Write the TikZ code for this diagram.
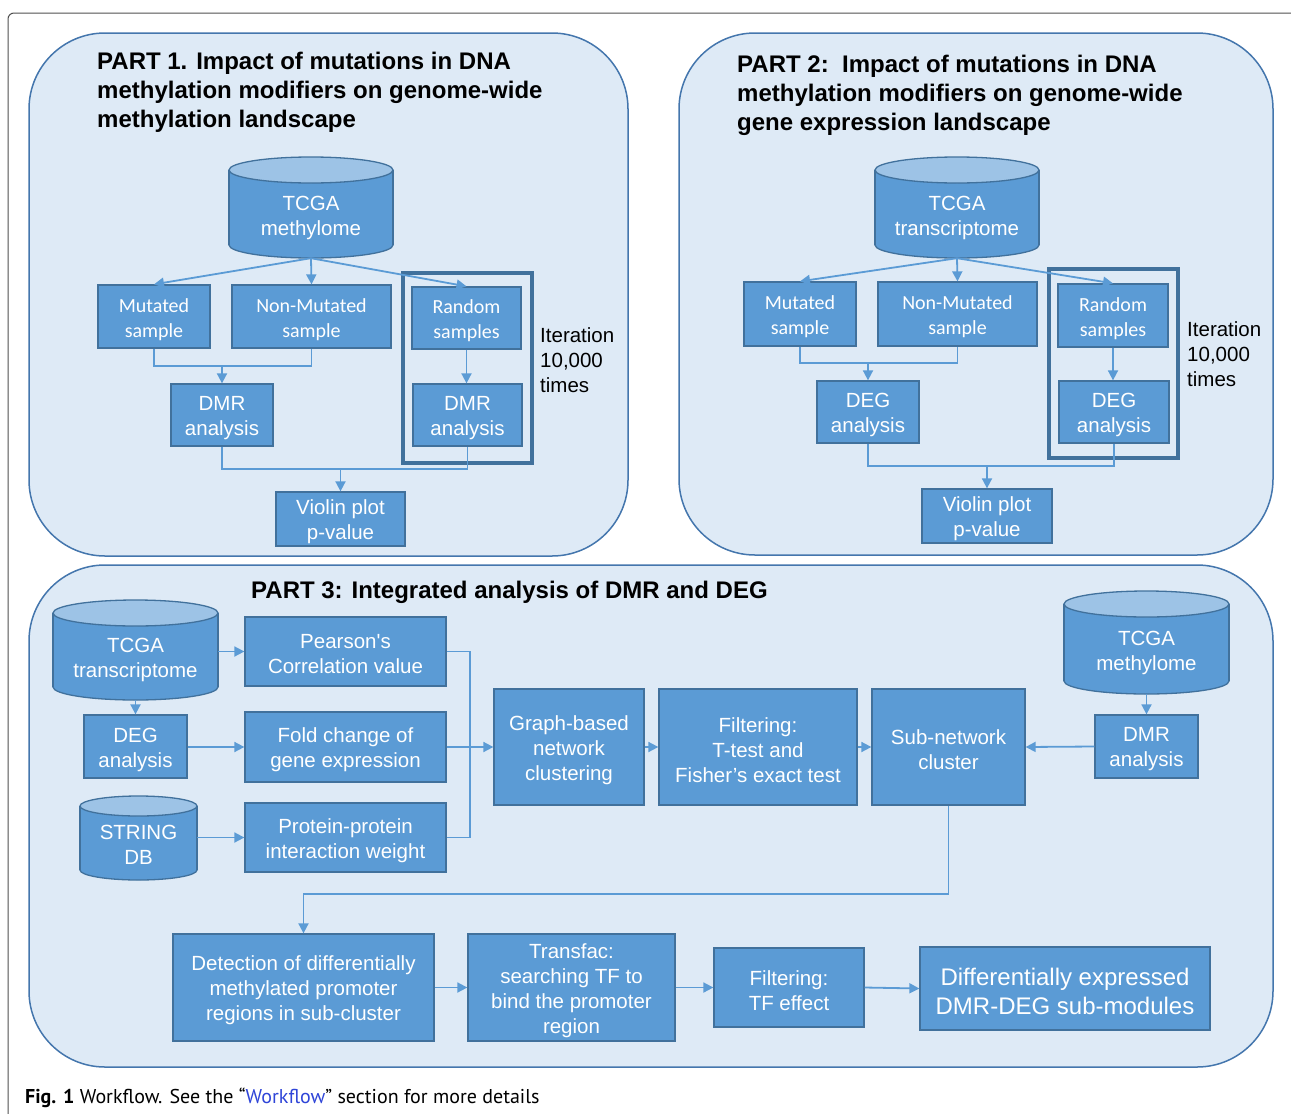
\documentclass[tikz,border=0pt]{standalone}
\usepackage{fontspec}
\setmainfont{Liberation Sans}[Ligatures=TeXOff]
\newfontfamily\calib{Carlito}
\newfontfamily\capfont{PT Sans}
\usetikzlibrary{arrows.meta}
\definecolor{boxfill}{HTML}{5B9BD5}
\definecolor{boxline}{HTML}{41719C}
\definecolor{cyltop}{HTML}{9DC3E6}
\definecolor{panelfill}{HTML}{DEEAF6}
\definecolor{panelline}{HTML}{4476AD}
\definecolor{arrcol}{HTML}{5B9BD5}
\definecolor{frameline}{HTML}{41719C}
\definecolor{linkblue}{HTML}{2F45D8}
\definecolor{outergray}{HTML}{505050}
\tikzset{
  box/.style={draw=boxline, fill=boxfill, line width=1.3pt, inner sep=0pt},
  btext/.style={text=white, align=center, inner sep=0pt, font=\fontsize{20.5}{25}\selectfont},
  ctext/.style={btext, font=\calib\fontsize{20}{25}\selectfont},
  bigtext/.style={btext, font=\fontsize{24}{29}\selectfont},
  cylline/.style={draw=boxline, line width=1.3pt},
  conn/.style={draw=arrcol, line width=1.8pt},
  arr/.style={conn, -{Triangle[length=10pt,width=10pt]}},
  panel/.style={draw=panelline, fill=panelfill, line width=1.5pt, rounded corners=76pt},
  iterframe/.style={draw=frameline, line width=3.5pt},
  ptitle/.style={font=\bfseries\fontsize{24}{29}\selectfont, align=left, anchor=north west, inner sep=0pt},
  itertext/.style={font=\fontsize{20.5}{25}\selectfont, align=left, anchor=north west, inner sep=0pt},
}
% box: [text style]{name}{l}{t}{r}{b}{text}
\newcommand\bx[7][btext]{%
  \node[box,minimum width={(#5-#3)*1pt},minimum height={(#6-#4)*1pt}] (#2) at ({(#3+#5)/2},{(#4+#6)/2}) {};
  \node[#1] (#2t) at ({(#3+#5)/2},{(#4+#6)/2+3}) {#7};}
% cylinder: {name}{l}{t}{r}{b}{ry}{text offset}{text}
\newcommand\cyl[8]{%
  \filldraw[cylline, fill=boxfill] ({(#2+#4)/2},{#5-#6}) ellipse [x radius={(#4-#2)/2}, y radius=#6];
  \fill[boxfill] (#2,{#3+#6}) rectangle (#4,{#5-#6});
  \draw[cylline] (#2,{#3+#6}) -- (#2,{#5-#6}) (#4,{#3+#6}) -- (#4,{#5-#6});
  \filldraw[cylline, fill=cyltop] ({(#2+#4)/2},{#3+#6}) ellipse [x radius={(#4-#2)/2}, y radius=#6];
  \node[inner sep=0pt, minimum width={(#4-#2)*1pt}, minimum height={(#5-#3)*1pt}] (#1) at ({(#2+#4)/2},{(#3+#5)/2}) {};
  \node[btext] (#1t) at ({(#2+#4)/2},{(#3+#5)/2+#7}) {#8};
}
\begin{document}
\begin{tikzpicture}[x=1pt, y=-1pt]
\useasboundingbox (0,0) rectangle (1291,1114);
\fill[white] (0,0) rectangle (1291,1114);
\draw[outergray, line width=1pt, rounded corners=6pt] (8,1114) -- (8,13) -- (1291,13);

% ---------- PART 1 ----------
\draw[panel] (29,33) rectangle (628,556);
\node[ptitle] (t1) at (97,52) {PART 1. Impact of mutations in DNA\\methylation modifiers on genome-wide\\methylation landscape};
\cyl{c1}{229}{157}{393}{258}{13}{10}{TCGA\\methylome}
\bx[ctext]{p1mut}{98}{285}{210}{348}{Mutated\\sample}
\bx[ctext]{p1non}{232}{285}{391}{348}{Non-Mutated\\sample}
\bx[ctext]{p1rand}{412}{287}{521}{349}{Random\\samples}
\bx{p1dmr}{171}{384}{273}{446}{DMR\\analysis}
\bx{p1dmr2}{413}{384}{522}{446}{DMR\\analysis}
\bx{p1vio}{276}{492}{405}{546}{Violin plot\\p-value}
\draw[iterframe] (403,273) rectangle (532,463);
\node[itertext] (it1) at (540,327) {Iteration\\10,000\\times};
\draw[arr] (c1.south) -- (p1mut.north);
\draw[arr] (c1.south) -- (p1non.north);
\draw[arr] (c1.south) -- (p1rand.north);
\draw[conn] (p1mut.south) |- (p1non.south |- 0,366) -- (p1non.south);
\coordinate (j1) at (p1dmr.north |- 0,366);
\draw[arr] (j1) -- (p1dmr.north);
\draw[arr] (p1rand.south) -- (p1rand.south |- p1dmr2.north);
\draw[conn] (p1dmr.south) |- (p1dmr2.south |- 0,469) -- (p1dmr2.south);
\coordinate (j2) at (p1vio.north |- 0,469);
\draw[arr] (j2) -- (p1vio.north);

% ---------- PART 2 ----------
\draw[panel] (679,33) rectangle (1273,555);
\node[ptitle] (t2) at (737,55) {PART 2:\ \ Impact of mutations in DNA\\methylation modifiers on genome-wide\\gene expression landscape};
\cyl{c2}{875}{157}{1039}{258}{13}{10}{TCGA\\transcriptome}
\bx[ctext]{p2mut}{744}{282}{856}{346}{Mutated\\sample}
\bx[ctext]{p2non}{878}{282}{1037}{346}{Non-Mutated\\sample}
\bx[ctext]{p2rand}{1058}{284}{1168}{347}{Random\\samples}
\bx{p2deg}{817}{381}{919}{443}{DEG\\analysis}
\bx{p2deg2}{1059}{381}{1169}{443}{DEG\\analysis}
\bx{p2vio}{922}{489}{1052}{543}{Violin plot\\p-value}
\draw[iterframe] (1049,269) rectangle (1178,458);
\node[itertext] (it2) at (1187,321) {Iteration\\10,000\\times};
\draw[arr] (c2.south) -- (p2mut.north);
\draw[arr] (c2.south) -- (p2non.north);
\draw[arr] (c2.south) -- (p2rand.north);
\draw[conn] (p2mut.south) |- (p2non.south |- 0,363) -- (p2non.south);
\coordinate (j3) at (p2deg.north |- 0,363);
\draw[arr] (j3) -- (p2deg.north);
\draw[arr] (p2rand.south) -- (p2rand.south |- p2deg2.north);
\draw[conn] (p2deg.south) |- (p2deg2.south |- 0,466) -- (p2deg2.south);
\coordinate (j4) at (p2vio.north |- 0,466);
\draw[arr] (j4) -- (p2vio.north);

% ---------- PART 3 ----------
\draw[panel] (29,565) rectangle (1273,1067);
\node[ptitle] (t3) at (251,581) {PART 3: Integrated analysis of DMR and DEG};
\cyl{c3t}{53}{600}{218}{700}{13}{10}{TCGA\\transcriptome}
\bx{p3deg}{84}{715}{187}{778}{DEG\\analysis}
\cyl{c3s}{80}{796}{197}{880}{10}{7}{STRING\\DB}
\bx{p3pear}{245}{617}{446}{686}{Pearson's\\Correlation value}
\bx{p3fold}{245}{712}{446}{782}{Fold change of\\gene expression}
\bx{p3ppi}{245}{803}{446}{872}{Protein-protein\\interaction weight}
\bx{p3graph}{494}{689}{644}{805}{Graph-based\\network\\clustering}
\bx{p3filt}{659}{689}{857}{805}{Filtering:\\T-test and\\Fisher’s exact test}
\bx{p3sub}{872}{689}{1025}{805}{Sub-network\\cluster}
\cyl{c3m}{1064}{591}{1229}{694}{13}{10}{TCGA\\methylome}
\bx{p3dmr}{1095}{715}{1198}{778}{DMR\\analysis}
\bx{p3det}{173}{934}{434}{1041}{Detection of differentially\\methylated promoter\\regions in sub-cluster}
\bx{p3tf}{468}{934}{675}{1041}{Transfac:\\searching TF to\\bind the promoter\\region}
\bx{p3ftf}{714}{948}{864}{1027}{Filtering:\\TF effect}
\bx[bigtext]{p3out}{920}{947}{1210}{1030}{Differentially expressed\\DMR-DEG sub-modules}

\draw[arr] (c3t.east |- p3pear.west) -- (p3pear.west);
\draw[arr] (c3t.south) -- (p3deg.north);
\draw[arr] (p3deg.east |- p3fold.west) -- (p3fold.west);
\draw[arr] (c3s.east |- p3ppi.west) -- (p3ppi.west);
\draw[conn] (p3pear.east) -| (470,751) |- (p3ppi.east);
\draw[arr] (p3fold.east) -- (p3graph.west);
\draw[arr] (p3graph.east) -- (p3filt.west);
\draw[arr] (p3filt.east) -- (p3sub.west);
\draw[arr] (p3dmr.west) -- (p3sub.east);
\draw[arr] (c3m.south) -- (p3dmr.north);
\draw[arr] (p3sub.south) |- (p3det.north |- 0,894) -- (p3det.north);
\draw[arr] (p3det.east) -- (p3tf.west);
\draw[arr] (p3tf.east) -- (p3ftf.west);
\draw[arr] (p3ftf.east) -- (p3out.west);

% caption
\node[anchor=base west, inner sep=0pt, font=\capfont\fontsize{20}{24}\selectfont] (cap) at (25,1103)
  {\textbf{Fig. 1} Workflow. See the “\textcolor{linkblue}{Workflow}” section for more details};
\end{tikzpicture}
\end{document}
